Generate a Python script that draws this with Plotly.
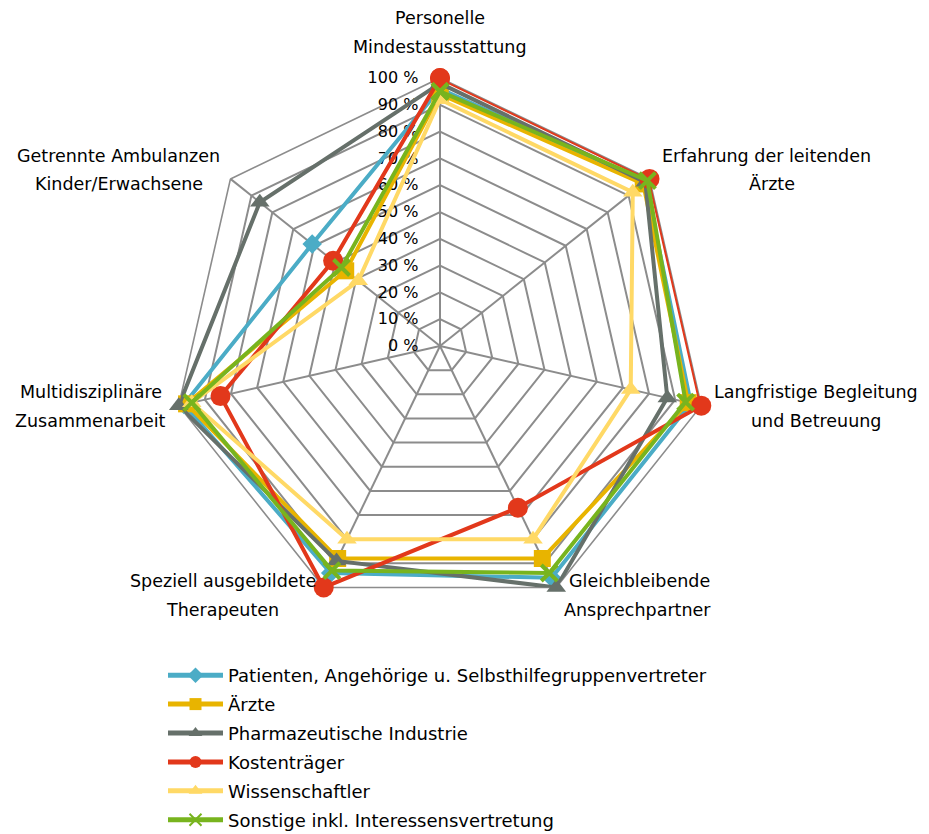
import plotly.graph_objects as go

categories = [
    "Personelle Mindestausstattung",
    "Erfahrung der leitenden Ärzte",
    "Langfristige Begleitung und Betreuung",
    "Gleichbleibende Ansprechpartner",
    "Speziell ausgebildete Therapeuten",
    "Multidisziplinäre Zusammenarbeit",
    "Getrennte Ambulanzen Kinder/Erwachsene",
]
label_lines = [
    ["Personelle", "Mindestausstattung"],
    ["Erfahrung der leitenden", "Ärzte"],
    ["Langfristige Begleitung", "und Betreuung"],
    ["Gleichbleibende", "Ansprechpartner"],
    ["Speziell ausgebildete", "Therapeuten"],
    ["Multidisziplinäre", "Zusammenarbeit"],
    ["Getrennte Ambulanzen", "Kinder/Erwachsene"],
]

series_names = [
    "Patienten, Angehörige u. Selbsthilfegruppenvertreter",
    "Ärzte",
    "Pharmazeutische Industrie",
    "Kostenträger",
    "Wissenschaftler",
    "Sonstige inkl. Interessensvertretung",
]
patienten = [96, 98, 96, 96, 94, 98, 61]
aerzte = [94, 97, 95, 88, 88, 97, 45]
pharma = [98, 98, 87, 100, 89, 100, 86]
kostentraeger = [100, 100, 100, 67, 100, 84, 51]
wissenschaftler = [92, 92, 73, 80, 80, 95, 39]
sonstige = [95, 99, 94, 94, 93, 95, 47]
values = [patienten, aerzte, pharma, kostentraeger, wissenschaftler, sonstige]

tick_vals = [0, 10, 20, 30, 40, 50, 60, 70, 80, 90, 100]
tick_text = ["0 %", "10 %", "20 %", "30 %", "40 %", "50 %", "60 %", "70 %", "80 %", "90 %", "100 %"]

colors = ["#4BACC6", "#E8B400", "#66706A", "#E2381B", "#FFD966", "#78B41E"]
symbols = ["diamond", "square", "triangle-up", "circle", "triangle-up", "x-thin-open"]
msizes = [15, 17, 17, 20, 17, 16]

OFF = 8  # page body margin
W, H = 929 - OFF, 834 - OFF
FONT = "DejaVu Sans"
GRID = "#8C8C8C"
PAD = "\u00a0\u00a0\u00a0"  # keeps tick labels clear of the axis line

def px(x):
    return (x - OFF) / W

def py(y):
    return 1 - (y - OFF) / H

cx, cy, R = 440, 346, 268

fig = go.Figure()
for i, name in enumerate(series_names):
    v = values[i] + [values[i][0]]
    th = categories + [categories[0]]
    marker = dict(symbol=symbols[i], size=msizes[i], color=colors[i])
    if symbols[i] == "x-thin-open":
        marker["line"] = dict(width=4, color=colors[i])
    fig.add_trace(go.Scatterpolar(
        r=v, theta=th, name=name, mode="lines+markers",
        line=dict(color=colors[i], width=4),
        marker=marker,
        legendgroup=str(i),
    ))

annotations = []
label_pos = [
    [(440, 18), (440, 47)],
    [(766, 156), (772, 184)],
    [(816, 392), (816, 421)],
    [(639, 581), (637, 610)],
    [(223, 581), (222, 610)],
    [(91, 392), (90, 421)],
    [(118, 156), (119, 184)],
]
for lines, poss in zip(label_lines, label_pos):
    for t, (x, y) in zip(lines, poss):
        annotations.append(dict(
            text=t, x=px(x), y=py(y), xref="paper", yref="paper",
            showarrow=False, xanchor="center", yanchor="middle",
            font=dict(family=FONT, size=17.5, color="#000000"),
        ))

fig.update_layout(
    width=W, height=H,
    margin=dict(l=0, r=0, t=0, b=0, autoexpand=False),
    paper_bgcolor="white",
    font=dict(family=FONT, size=16, color="#000000"),
    polar=dict(
        domain=dict(x=[px(cx - R), px(cx + R)], y=[py(cy + R), py(cy - R)]),
        bgcolor="white",
        gridshape="linear",
        radialaxis=dict(
            range=[0, 100], tickmode="array", tickvals=tick_vals,
            ticktext=[t + PAD for t in tick_text],
            angle=90, side="counterclockwise", tickangle=90,
            showline=True, linecolor=GRID, linewidth=1.6,
            gridcolor=GRID, gridwidth=1.6,
            ticks="", tickfont=dict(family=FONT, size=16, color="#000000"),
            layer="below traces",
        ),
        angularaxis=dict(
            direction="clockwise", rotation=90,
            showticklabels=False, ticks="",
            linecolor=GRID, linewidth=1.6,
            gridcolor=GRID, gridwidth=1.6,
            layer="below traces",
        ),
    ),
    showlegend=True,
    legend=dict(
        x=px(163), y=py(657), xanchor="left", yanchor="top",
        font=dict(family=FONT, size=18, color="#000000"),
        itemwidth=55, tracegroupgap=2.5, bgcolor="rgba(0,0,0,0)",
        itemsizing="constant",
    ),
    annotations=annotations,
)

fig.write_html("out.html")
